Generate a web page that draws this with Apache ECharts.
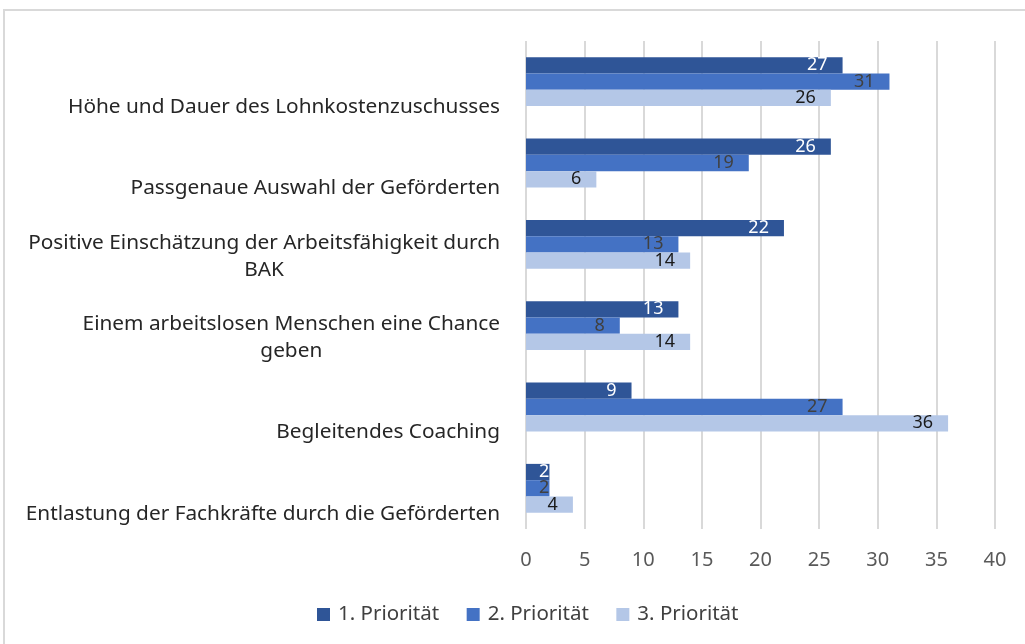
<!DOCTYPE html>
<html>
<head>
<meta charset="utf-8">
<script src="https://cdn.jsdelivr.net/npm/echarts@6/dist/echarts.min.js"></script>
<style>html,body{margin:0;padding:0;background:#fff;}#c{width:1025px;height:644px;}</style>
</head>
<body>
<div id="c"></div>
<script>
const categories = [
  "Höhe und Dauer des Lohnkostenzuschusses",
  "Passgenaue Auswahl der Geförderten",
  "Positive Einschätzung der Arbeitsfähigkeit durch\nBAK",
  "Einem arbeitslosen Menschen eine Chance\ngeben",
  "Begleitendes Coaching",
  "Entlastung der Fachkräfte durch die Geförderten"
];
const seriesNames = ["1. Priorität", "2. Priorität", "3. Priorität"];
const prio1 = [27, 26, 22, 13, 9, 2];
const prio2 = [31, 19, 13, 8, 27, 2];
const prio3 = [26, 6, 14, 14, 36, 4];
const xTicks = [0, 5, 10, 15, 20, 25, 30, 35, 40];

const colors = ["#2F5597", "#4472C4", "#B4C7E7"];
const labelColors = ["#ffffff", "#404040", "#1a1a1a"];
const FONT = "Noto Sans";

function mkData(arr) {
  return arr.map(v => v < 3 ? {value: v, label: {position: 'insideLeft', distance: 13}} : v);
}

const chart = echarts.init(document.getElementById('c'), null, {renderer: 'canvas'});
const allSeries = [prio1, prio2, prio3].map((arr, i) => ({
  name: seriesNames[i],
  type: 'bar',
  data: mkData(arr),
  barWidth: 16.3,
  barGap: '0%',
  itemStyle: {color: colors[i]},
  label: {
    show: true,
    position: 'insideRight',
    distance: 15,
    color: labelColors[i],
    fontFamily: FONT,
    fontSize: 18
  }
}));

chart.setOption({
  animation: false,
  graphic: [{
    type: 'rect',
    shape: {x: 4, y: 10, width: 1100, height: 700},
    style: {fill: 'none', stroke: '#d9d9d9', lineWidth: 2},
    silent: true, z: -1
  }],
  grid: {left: 526, right: 30, top: 41, bottom: 115, containLabel: false},
  legend: {
    data: seriesNames,
    left: 312,
    top: 599,
    itemWidth: 13,
    itemHeight: 13,
    itemGap: 27.5,
    icon: 'rect',
    textStyle: {fontFamily: FONT, fontSize: 20.5, color: '#404040', padding: [0, 0, 0, 3]}
  },
  xAxis: {
    type: 'value',
    min: 0,
    max: 40,
    interval: 5,
    axisLine: {show: false},
    axisTick: {show: false},
    splitLine: {lineStyle: {color: '#d9d9d9', width: 2}},
    axisLabel: {
      margin: 21,
      color: '#595959',
      fontFamily: FONT,
      fontSize: 20,
      formatter: v => xTicks.includes(v) ? String(v) : ''
    }
  },
  yAxis: {
    type: 'category',
    data: categories,
    inverse: true,
    axisLine: {show: false},
    axisTick: {show: false},
    axisLabel: {
      margin: 26,
      color: '#262626',
      fontFamily: FONT,
      fontSize: 20.8,
      lineHeight: 27,
      verticalAlign: 'bottom',
      padding: [0, 0, -39, 0],
      formatter: v => v.split('\n').map(s => '{a|' + s + '}').join('\n'),
      rich: {a: {align: 'center', fontFamily: FONT, fontSize: 20.8, color: '#262626', lineHeight: 27}}
    }
  },
  series: allSeries
});
</script>
</body>
</html>
